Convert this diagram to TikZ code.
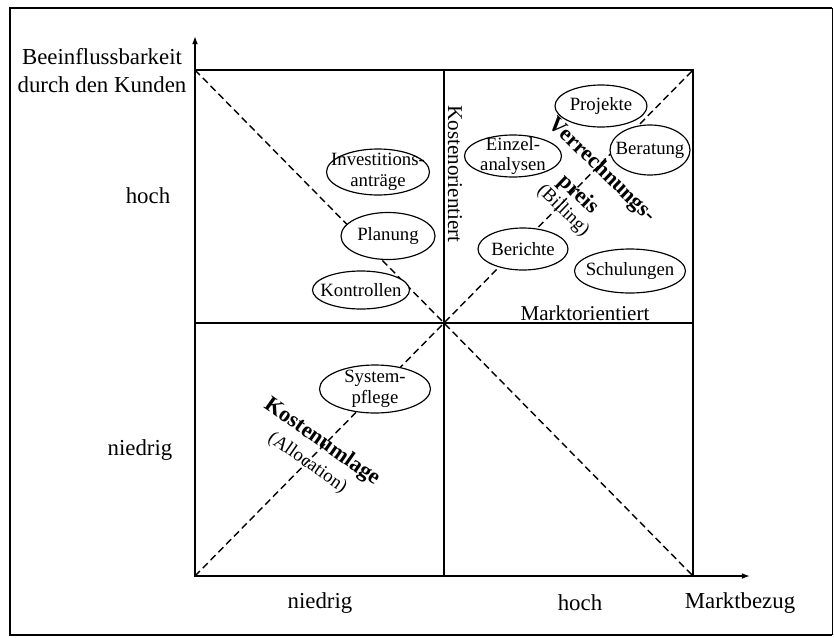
\documentclass[tikz,border=0pt]{standalone}
\usepackage{fontspec}
\setmainfont{Liberation Serif}
\usepackage{tikz}
\usetikzlibrary{arrows.meta,shapes.geometric}

\newcommand{\klein}{\fontsize{16}{18}\selectfont\mdseries}

\begin{document}
\begin{tikzpicture}[x=0.03cm,y=-0.03cm,
		rahmen/.style={line width=1.8pt},
		linie/.style={line width=1.2pt},
		achse/.style={line width=1.2pt,-{Latex[length=7pt,width=5pt]}},
		diag/.style={line width=1.2pt,dash pattern=on 6pt off 3.5pt},
		achstext/.style={font=\fontsize{19.5}{24}\selectfont},
		orient/.style={font=\fontsize{18}{22}\selectfont},
		verfahren/.style={align=center,font=\bfseries\fontsize{19}{29}\selectfont},
		leistung/.style={ellipse,draw,line width=1pt,fill=white,inner sep=0pt},
		lab/.style={align=center,inner sep=0pt,font=\fontsize{16}{17.5}\selectfont}
		]
		\useasboundingbox (0,0) rectangle (834,637);
		% Rahmen
		\coordinate (rlo) at (10,8);
		\coordinate (rro) at (832,8);
		\coordinate (rru) at (832,635);
		\coordinate (rlu) at (10,635);
		\draw[rahmen] (rro) -- (rlo) -- (rlu) -- (rru);
		\draw[line width=0.6pt] (rro) -- (rru);
		% Koordinaten des Quadrats
		\coordinate (ul) at (195,576);
		\coordinate (ol) at (195,70);
		\coordinate (or) at (693,70);
		\coordinate (ur) at (693,576);
		\coordinate (mo) at (444,70);
		\coordinate (mu) at (444,576);
		\coordinate (ml) at (195,323);
		\coordinate (mr) at (693,323);
		\coordinate (ytip) at (195,36);
		\coordinate (xtip) at (750,576);
		\draw[linie] (ul) rectangle (or);
		\draw[linie] (mo) -- (mu);
		\draw[linie] (ml) -- (mr);
		\draw[achse] (ul) -- (ytip);
		\draw[achse] (ul) -- (xtip);
		\draw[diag] (ol) -- (ur);
		\draw[diag] (ul) -- (or);
		% Achsenbeschriftung
		\node[achstext,align=center] (yname) at (102,71) {Beeinflussbarkeit\\durch den Kunden};
		\node[achstext] (yhoch) at (148,196) {hoch};
		\node[achstext] (yniedrig) at (140,450) {niedrig};
		\node[achstext] (xniedrig) at (320,603) {niedrig};
		\node[achstext] (xhoch) at (580,603) {hoch};
		\node[achstext] (xname) at (740,603) {Marktbezug};
		\node[orient,rotate=-90] (kosten) at (455,174) {Kostenorientiert};
		\node[orient] (markt) at (585,313) {Marktorientiert};
		\node[verfahren,rotate=-44] (verr) at (583,190) {Verrechnungs-\\preis\\[-11pt]{\klein (Billing)}};
		\node[verfahren,rotate=-35] (umlage) at (315,452) {Kostenumlage\\[-8pt]{\klein (Allocation)}};
		% Leistungen
		\node[leistung,minimum width=3.09cm,minimum height=1.38cm,label={[lab]center:{Investitions-\\anträge}}] (invest) at (378,172) {};
		\node[leistung,minimum width=2.82cm,minimum height=1.41cm,label={[lab]center:Planung}] (planung) at (388,236) {};
		\node[leistung,minimum width=2.91cm,minimum height=1.14cm,label={[lab]center:Kontrollen}] (kontrollen) at (361,290) {};
		\node[leistung,minimum width=2.91cm,minimum height=1.26cm,label={[lab]center:{Einzel-\\analysen}}] (einzel) at (513,156) {};
		\node[leistung,minimum width=2.76cm,minimum height=1.26cm,label={[lab]center:Projekte}] (projekte) at (601,106) {};
		\node[leistung,minimum width=2.4cm,minimum height=1.5cm,label={[lab]center:Beratung}] (beratung) at (650,150) {};
		\node[leistung,minimum width=2.7cm,minimum height=1.26cm,label={[lab]center:Berichte}] (berichte) at (523,249) {};
		\node[leistung,minimum width=3.33cm,minimum height=1.32cm,label={[lab]center:Schulungen}] (schulungen) at (630,271) {};
		\node[leistung,minimum width=3.33cm,minimum height=1.44cm,label={[lab]center:{System-\\pflege}}] (system) at (375,389) {};
\end{tikzpicture}
\end{document}
